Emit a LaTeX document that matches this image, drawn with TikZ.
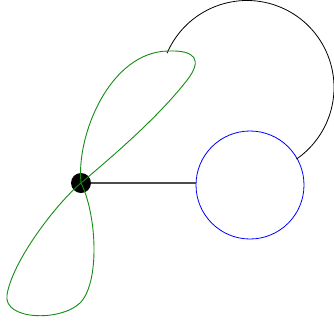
\documentclass[tikz,border=0pt]{standalone}
\begin{document}
\begin{tikzpicture}[x=1pt,y=-1pt,
  dotnode/.style={circle,fill=black,inner sep=0pt,minimum size=20pt},
  bluenode/.style={circle,draw=blue,line width=0.8pt,inner sep=0pt,minimum size=108pt},
  greenloop/.style={draw={rgb,255:red,20;green,140;blue,20},line width=0.9pt},
  link/.style={draw=black!70,line width=1.2pt},
  arcline/.style={draw=black,line width=0.8pt}]
\useasboundingbox (0,0) rectangle (334,322);
\node[dotnode] (dot) at (81,183) {};
\node[bluenode] (blue) at (250,185) {};
\draw[link] (dot) -- (blue.west |- dot);
% black arc
\coordinate (arcstart) at (247,87.5);
\draw[arcline] ([shift={(-156.8:87)}]arcstart) arc[start angle=-156.8,end angle=55.4,radius=87];
% green upper loop
\draw[greenloop] (dot.center) .. controls (76,135) and (110,52) .. (168,51)
  .. controls (196,50) and (202,60) .. (188,79)
  .. controls (160,115) and (120,150) .. (dot.center);
% green lower loop
\draw[greenloop] (dot.center) .. controls (55,205) and (12,262) .. (7,295)
  .. controls (3,320) and (60,322) .. (80,303)
  .. controls (100,283) and (97,215) .. (dot.center);
\end{tikzpicture}
\end{document}
